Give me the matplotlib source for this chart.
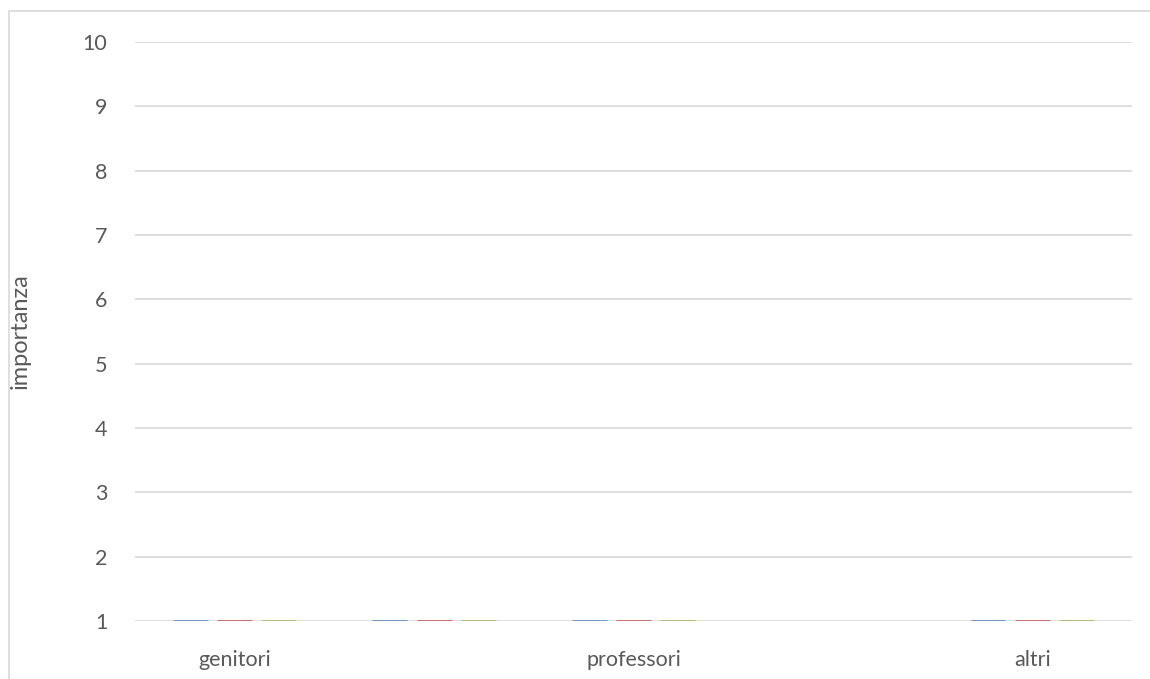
import numpy as np
import matplotlib.pyplot as plt
from matplotlib.patches import Rectangle

plt.rcParams['font.family'] = ['Lato', 'DejaVu Sans']

# categorie (Excel mostra solo un'etichetta su due)
categorie = ['genitori', '', 'professori', '', 'altri']
serie1 = np.array([1, 1, 1, np.nan, 1])
serie2 = np.array([1, 1, 1, np.nan, 1])
serie3 = np.array([1, 1, 1, np.nan, 1])
colori = ['#4F81BD', '#C0504D', '#9BBB59']
yticks = list(range(1, 11))

W, H = 1150, 679
fig = plt.figure(figsize=(W / 100, H / 100), dpi=100)
ax = fig.add_axes([135 / W, 1 - 621 / H, (1132 - 135) / W, (621 - 42) / H])

# bordo del grafico
fig.patches.append(Rectangle((9 / W, -0.1), 1.2, 1 - 11 / H + 0.1, transform=fig.transFigure,
                             fill=False, edgecolor='#D9D9D9', linewidth=1.2))

x = np.arange(len(categorie))
larg = 0.175
off = 0.222
base = 1
for i, (s, c) in enumerate(zip([serie1, serie2, serie3], colori)):
    ax.bar(x + (i - 1) * off, s - base, larg, bottom=base, color=c,
           edgecolor=c, linewidth=1.8, zorder=3)

ax.set_xlim(-0.5, len(categorie) - 0.5)
ax.set_ylim(1, 10)
ax.set_yticks(yticks)
ax.set_xticks(x)
ax.set_xticklabels(categorie)
ax.grid(axis='y', color='#D9D9D9', linewidth=1.2, zorder=0)
for sp in ax.spines.values():
    sp.set_visible(False)
ax.tick_params(axis='both', length=0, labelsize=15.5, colors='#595959')
ax.tick_params(axis='y', pad=20)
ax.tick_params(axis='x', pad=21)
ax.set_ylabel('importanza', fontsize=17, color='#595959')
ax.yaxis.set_label_coords(-0.105, 0.5)

fig.savefig('out.png', dpi=100)
